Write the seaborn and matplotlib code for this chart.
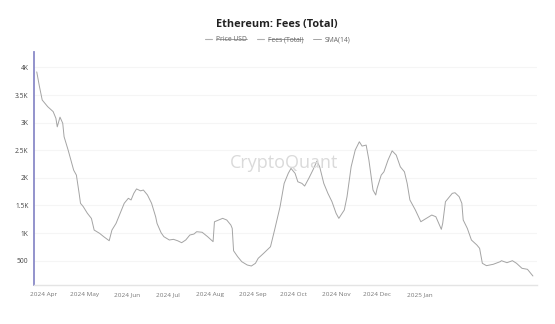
import pandas as pd
import numpy as np
import seaborn as sns
import matplotlib.pyplot as plt
from matplotlib.lines import Line2D

# values (SMA(14) of total fees, USD)
dates = ['2024-03-27', '2024-03-29', '2024-03-31', '2024-04-04', '2024-04-08', '2024-04-10',
         '2024-04-11', '2024-04-13', '2024-04-15', '2024-04-16', '2024-04-19', '2024-04-21',
         '2024-04-23', '2024-04-25', '2024-04-27', '2024-04-28', '2024-04-30', '2024-05-03',
         '2024-05-06', '2024-05-08', '2024-05-12', '2024-05-15', '2024-05-19', '2024-05-21',
         '2024-05-24', '2024-05-27', '2024-05-30', '2024-06-02', '2024-06-04', '2024-06-06',
         '2024-06-08', '2024-06-11', '2024-06-13', '2024-06-16', '2024-06-19', '2024-06-22',
         '2024-06-23', '2024-06-26', '2024-06-28', '2024-07-02', '2024-07-05', '2024-07-08',
         '2024-07-11', '2024-07-14', '2024-07-17', '2024-07-20', '2024-07-22', '2024-07-26',
         '2024-07-30', '2024-08-03', '2024-08-04', '2024-08-07', '2024-08-10', '2024-08-13',
         '2024-08-16', '2024-08-17', '2024-08-18', '2024-08-21', '2024-08-24', '2024-08-28',
         '2024-08-31', '2024-09-03', '2024-09-05', '2024-09-09', '2024-09-14', '2024-09-17',
         '2024-09-21', '2024-09-24', '2024-09-27', '2024-09-29', '2024-10-02', '2024-10-04',
         '2024-10-07', '2024-10-09', '2024-10-12', '2024-10-15', '2024-10-18', '2024-10-20',
         '2024-10-23', '2024-10-26', '2024-10-29', '2024-11-01', '2024-11-03', '2024-11-07',
         '2024-11-09', '2024-11-12', '2024-11-15', '2024-11-18', '2024-11-20', '2024-11-23',
         '2024-11-25', '2024-11-28', '2024-11-30', '2024-12-01', '2024-12-04', '2024-12-06',
         '2024-12-09', '2024-12-12', '2024-12-15', '2024-12-18', '2024-12-21', '2024-12-23',
         '2024-12-25', '2024-12-29', '2025-01-02', '2025-01-06', '2025-01-10', '2025-01-13',
         '2025-01-17', '2025-01-18', '2025-01-20', '2025-01-22', '2025-01-25', '2025-01-27',
         '2025-01-30', '2025-02-01', '2025-02-02', '2025-02-05', '2025-02-08', '2025-02-12',
         '2025-02-14', '2025-02-16', '2025-02-19', '2025-02-24', '2025-03-01', '2025-03-02',
         '2025-03-06', '2025-03-10', '2025-03-13', '2025-03-17', '2025-03-21', '2025-03-25']
fees_sma = [3920, 3650, 3410, 3290, 3200, 3080,
            2925, 3100, 2990, 2745, 2500, 2320,
            2140, 2050, 1720, 1540, 1480, 1360,
            1265, 1055, 995, 935, 862, 1055,
            1175, 1360, 1540, 1630, 1600, 1720,
            1800, 1765, 1780, 1690, 1540, 1295,
            1175, 1005, 935, 875, 887, 862,
            826, 875, 965, 983, 1025, 1015,
            935, 845, 1205, 1237, 1267, 1237,
            1146, 1086, 680, 572, 482, 422,
            404, 453, 543, 634, 753, 1056,
            1477, 1900, 2082, 2172, 2082, 1930,
            1900, 1852, 1990, 2140, 2305, 2200,
            1900, 1720, 1568, 1358, 1267, 1418,
            1660, 2200, 2504, 2654, 2576, 2594,
            2323, 1780, 1690, 1810, 2050, 2110,
            2323, 2490, 2413, 2200, 2110, 1900,
            1600, 1418, 1206, 1267, 1327, 1296,
            1068, 1177, 1568, 1630, 1720, 1731,
            1660, 1540, 1237, 1086, 875, 784,
            724, 453, 410, 435, 482, 500,
            464, 500, 453, 362, 344, 223]

month_ticks = ['2024-04-01', '2024-05-01', '2024-06-01', '2024-07-01', '2024-08-01',
               '2024-09-01', '2024-10-01', '2024-11-01', '2024-12-01', '2025-01-01']
month_labels = ['2024 Apr', '2024 May', '2024 Jun', '2024 Jul', '2024 Aug',
                '2024 Sep', '2024 Oct', '2024 Nov', '2024 Dec', '2025 Jan']
y_ticks = [500, 1000, 1500, 2000, 2500, 3000, 3500, 4000]
y_labels = ['500', '1K', '1.5K', '2K', '2.5K', '3K', '3.5K', '4K']

df = pd.DataFrame({'date': pd.to_datetime(dates), 'fees': fees_sma})

sns.set_style('white')
plt.rcParams['font.family'] = ['Open Sans', 'DejaVu Sans']

fig = plt.figure(figsize=(5.55, 3.24), dpi=100)
ax = fig.add_axes([0.0613, 0.1204, 0.9063, 0.7191])

# hidden series, only shown (struck out) in the legend
ax.plot([], [], color='#b0b0b0', lw=0.8, label='Price USD')
ax.plot([], [], color='#b0b0b0', lw=0.8, label='Fees (Total)')
sns.lineplot(data=df, x='date', y='fees', ax=ax, color='#a4a4a4', lw=0.7, label='SMA(14)')

ax.set_xlim(pd.Timestamp('2024-03-25'), pd.Timestamp('2025-03-28'))
ax.set_ylim(60, 4280)
ax.set_xticks(pd.to_datetime(month_ticks))
ax.set_xticklabels(month_labels)
ax.set_yticks(y_ticks)
ax.set_yticklabels(y_labels)
ax.set_xlabel('')
ax.set_ylabel('')
ax.tick_params(axis='x', labelsize=4.6, colors='#777777', length=2, color='#e0e0e0', pad=3)
ax.tick_params(axis='y', labelsize=4.8, colors='#444444', length=0, pad=4)
ax.grid(axis='y', color='#f5f5f5', lw=0.8)
ax.set_axisbelow(True)

for s in ['top', 'right']:
    ax.spines[s].set_visible(False)
ax.spines['left'].set_color('#8a8ac8')
ax.spines['left'].set_linewidth(1.3)
ax.spines['bottom'].set_color('#e4e4e4')
ax.spines['bottom'].set_linewidth(1)

# watermark
fig.text(0.512, 0.497, 'CryptoQuant', ha='center', va='center', fontsize=13,
         color='#dadada', zorder=0)

fig.text(0.498, 0.923, 'Ethereum: Fees (Total)', ha='center', va='center',
         fontsize=7.8, fontweight='bold', color='#222222')

h, l = ax.get_legend_handles_labels()
ax.legend_.remove()
leg = fig.legend(h, l, loc='center', bbox_to_anchor=(0.5, 0.877), ncol=3, frameon=False,
                 fontsize=4.9, handlelength=1.1, handletextpad=0.5, columnspacing=1.5)
for t in leg.get_texts():
    t.set_color('#666666')

# strike through the hidden series
fig.canvas.draw()
inv = fig.transFigure.inverted()
for t in leg.get_texts()[:2]:
    bb = t.get_window_extent()
    (x0, y0), (x1, y1) = inv.transform([(bb.x0, bb.y0), (bb.x1, bb.y1)])
    ym = y0 + 0.58 * (y1 - y0)
    fig.add_artist(Line2D([x0, x1], [ym, ym], transform=fig.transFigure,
                          color='#777777', lw=0.5))

fig.savefig('out.png', dpi=100)
